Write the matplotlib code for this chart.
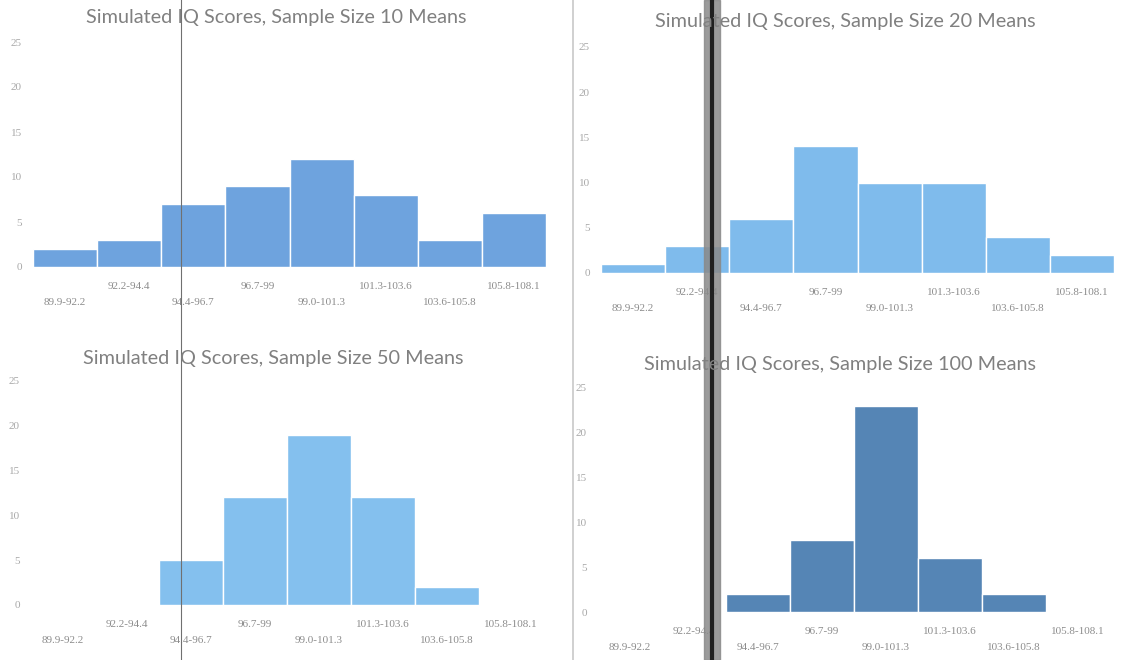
import numpy as np
import matplotlib.pyplot as plt
from matplotlib.lines import Line2D
from matplotlib.patches import Rectangle

#=================================================
#       DONNEES
#=================================================
bins = ["89.9-92.2", "92.2-94.4", "94.4-96.7", "96.7-99",
        "99.0-101.3", "101.3-103.6", "103.6-105.8", "105.8-108.1"]
counts_10 = [2, 3, 7, 9, 12, 8, 3, 6]
counts_20 = [1, 3, 6, 14, 10, 10, 4, 2]
counts_50 = [0, 0, 5, 12, 19, 12, 2, 0]
counts_100 = [0, 0, 2, 8, 23, 6, 2, 0]
sizes = [10, 20, 50, 100]

W, H = 1123, 660
fig = plt.figure(figsize=(W / 100, H / 100), dpi=100)
fig.patch.set_facecolor("white")

# panel boxes in pixels: left, right, y of 0, y of 25, title x, title y, colour
panels = [
    (33, 546, 267, 42, 276, 18, "#6ea3de"),
    (601, 1114, 273, 47, 845, 22, "#7fbbec"),
    (31, 543, 605, 381, 273, 358, "#84c0ee"),
    (598, 1110, 612, 388, 840, 365, "#5585b5"),
]
all_counts = [counts_10, counts_20, counts_50, counts_100]

for (x0, x1, y0, y25, tx, ty, col), counts, n in zip(panels, all_counts, sizes):
    ax = fig.add_axes([x0 / W, 1 - y0 / H, (x1 - x0) / W, (y0 - y25) / H])
    ax.bar(np.arange(len(bins)), counts, width=1.0, color=col,
           edgecolor="white", linewidth=1.0)
    ax.set_xlim(-0.5, len(bins) - 0.5)
    ax.set_ylim(0, 25)
    ax.set_yticks(range(0, 26, 5))
    ax.set_xticks(np.arange(len(bins)), bins)
    for s in ax.spines.values():
        s.set_visible(False)
    ax.tick_params(axis="both", length=0)
    ax.tick_params(axis="y", labelsize=8, labelcolor="#a8a8a8", pad=8)
    ax.tick_params(axis="x", labelsize=8, labelcolor="#8c8c8c")
    for lab in ax.get_xticklabels() + ax.get_yticklabels():
        lab.set_fontfamily("Liberation Serif")
    for i, t in enumerate(ax.xaxis.get_major_ticks()):
        t.set_pad(11 if i % 2 else 22)
    fig.text(tx / W, 1 - ty / H, "Simulated IQ Scores, Sample Size %d Means" % n,
             ha="center", va="center", fontsize=14.3, color="#808080",
             family="Lato")

# bords / traces du scan
fig.add_artist(Line2D([573 / W, 573 / W], [0, 1], color="#c8c8c8", lw=1.2))
fig.add_artist(Line2D([181 / W, 181 / W], [0, 1], color="#707070", lw=0.8))
fig.add_artist(Rectangle((704 / W, 0), 16 / W, 1, color="#8a8a8a", alpha=0.85))
fig.add_artist(Line2D([712 / W, 712 / W], [0, 1], color="#202020", lw=3))

fig.savefig("out.png", dpi=100)
